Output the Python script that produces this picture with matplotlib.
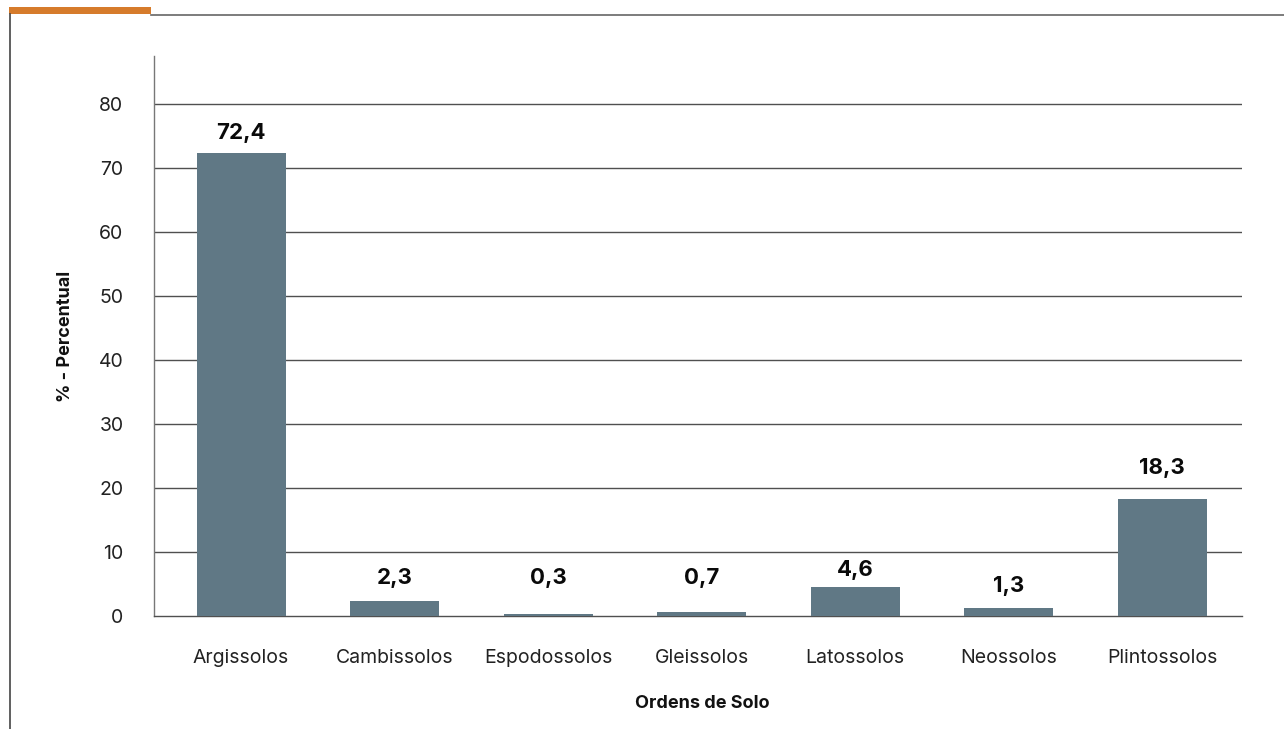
import matplotlib
matplotlib.use("Agg")
import matplotlib.pyplot as plt
from matplotlib.lines import Line2D
from matplotlib.patches import Rectangle

categories = ["Argissolos", "Cambissolos", "Espodossolos", "Gleissolos",
              "Latossolos", "Neossolos", "Plintossolos"]
values = [72.4, 2.3, 0.3, 0.7, 4.6, 1.3, 18.3]
value_labels = ["72,4", "2,3", "0,3", "0,7", "4,6", "1,3", "18,3"]
yticks = [0, 10, 20, 30, 40, 50, 60, 70, 80]

# label heights above bars (layout, in data units)
label_offsets = [3.0, 3.6, 5.6, 5.2, 2.6, 3.4, 4.8]

plt.rcParams['font.family'] = ['Inter', 'DejaVu Sans']

W, H = 1284, 729
fig = plt.figure(figsize=(W / 100, H / 100), dpi=100)
ax = fig.add_axes([154 / W, 1 - 616 / H, (1242 - 154) / W, (616 - 56) / H])

bar_color = "#607885"
grid_color = "#505050"
x = list(range(len(categories)))
ax.bar(x, values, width=0.58, color=bar_color, zorder=3)
for xi, v, lab, off in zip(x, values, value_labels, label_offsets):
    ax.text(xi, v + off, lab, ha="center", va="center", fontsize=16,
            fontweight="bold", color="#0a0a0a", zorder=4)

ax.set_xlim(-0.567, 6.52)
ax.set_ylim(0, 87.5)
ax.set_yticks(yticks)
ax.set_yticklabels([str(t) for t in yticks], fontsize=14, color="#222222")
ax.set_xticks(x)
ax.set_xticklabels(categories, fontsize=14, color="#222222")
ax.tick_params(axis="both", length=0)
ax.tick_params(axis="y", pad=22)
ax.tick_params(axis="x", pad=24)

for t in yticks[1:]:
    ax.axhline(t, color=grid_color, lw=1.0, zorder=1)

for s in ["top", "right"]:
    ax.spines[s].set_visible(False)
ax.spines["left"].set_color("#777777")
ax.spines["bottom"].set_color(grid_color)
for s in ["left", "bottom"]:
    ax.spines[s].set_linewidth(1.0)

ax.set_ylabel("% - Percentual", fontsize=13, fontweight="bold", color="#111111")
ax.set_xlabel("Ordens de Solo", fontsize=13, fontweight="bold", color="#111111")
ax.yaxis.set_label_coords((66 - 154) / (1242 - 154), 0.5)
ax.xaxis.set_label_coords((702 - 154) / (1242 - 154), -(703 - 616) / (616 - 56))
ax.xaxis.label.set_va("center")
ax.yaxis.label.set_va("center")

# decorative frame
fig.patches.append(Rectangle((9 / W, 1 - 14 / H), (151 - 9) / W, 7 / H,
                             transform=fig.transFigure, color="#D67B2B", lw=0))
fig.lines.append(Line2D([151 / W, 1.0], [1 - 14.5 / H, 1 - 14.5 / H],
                        transform=fig.transFigure, color="#666666", lw=1.2))
fig.lines.append(Line2D([9.5 / W, 9.5 / W], [1 - 14 / H, 0.0],
                        transform=fig.transFigure, color="#444444", lw=1.2))

fig.savefig("out.png", dpi=100)
